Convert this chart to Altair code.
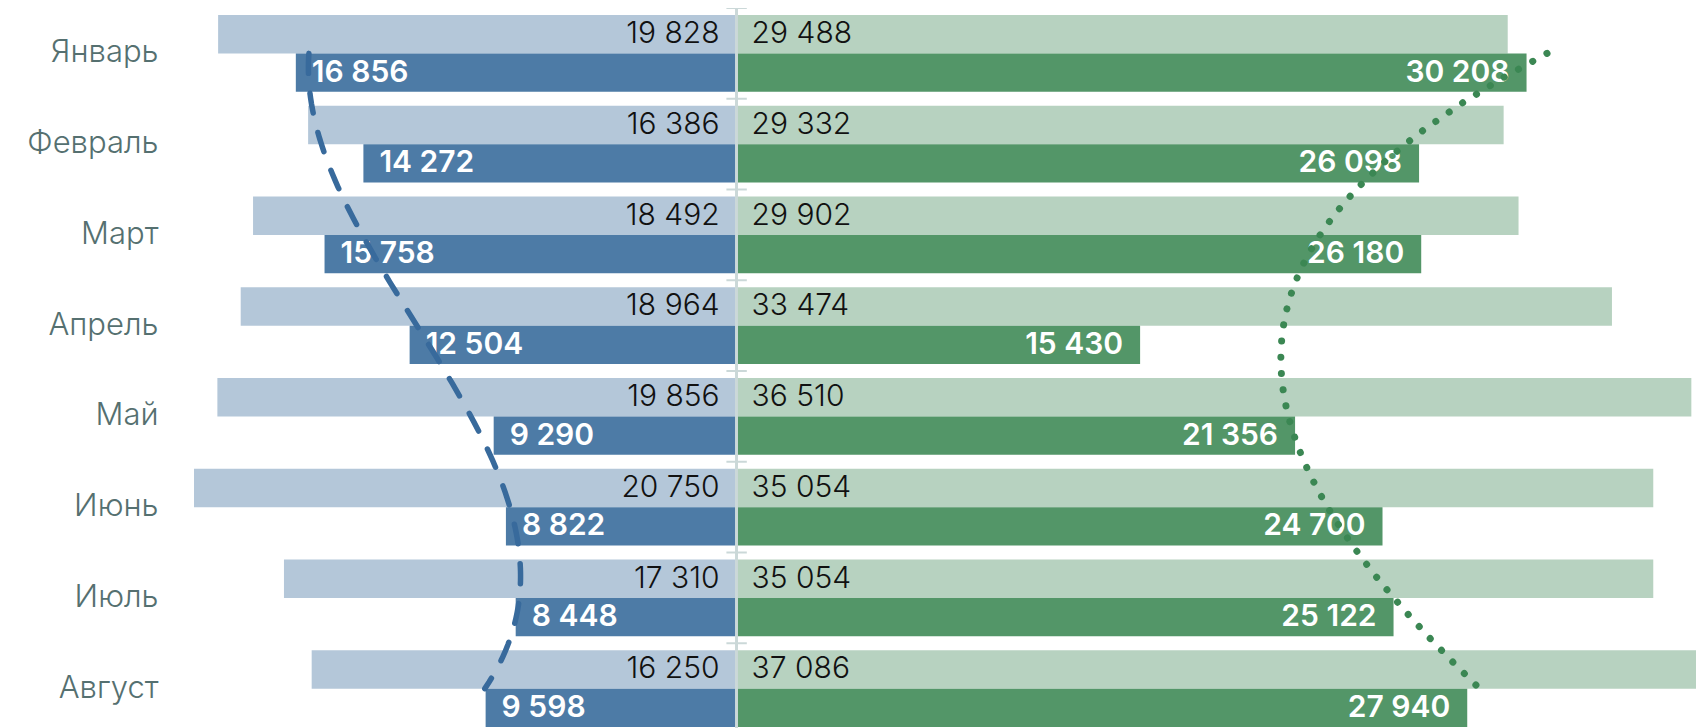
import altair as alt
import pandas as pd

months = ["Январь", "Февраль", "Март", "Апрель", "Май", "Июнь", "Июль", "Август"]
prev_left = [19828, 16386, 18492, 18964, 19856, 20750, 17310, 16250]
cur_left = [16856, 14272, 15758, 12504, 9290, 8822, 8448, 9598]
prev_right = [29488, 29332, 29902, 33474, 36510, 35054, 35054, 37086]
cur_right = [30208, 26098, 26180, 15430, 21356, 24700, 25122, 27940]


def fmt(v):
    return f"{v:,}".replace(",", "\u00a0")


rows = []
for i, m in enumerate(months):
    for side, series, vals in [("L", "prev", prev_left), ("L", "cur", cur_left),
                               ("R", "prev", prev_right), ("R", "cur", cur_right)]:
        v = vals[i]
        rows.append({
            "month": m, "idx": i, "series": series, "side": side,
            "key": f"{side}_{series}", "value": v,
            "x": -v if side == "L" else v, "label": fmt(v),
        })
df = pd.DataFrame(rows)
df_dark = pd.DataFrame({"idx": list(range(len(months))), "cur_left": cur_left, "cur_right": cur_right})
df_months = pd.DataFrame({"month": months})

FONT = "Inter"
BAND_RANGE = [0, 726]
xscale = alt.Scale(domain=[-20750, 36688], nice=False, zero=False)
yscale = alt.Scale(domain=months, paddingInner=0, paddingOuter=0, range=BAND_RANGE)
yoff = alt.YOffset("series:N", sort=["prev", "cur"],
                   scale=alt.Scale(paddingInner=0, paddingOuter=0.18))

base = alt.Chart(df)

bars = base.mark_bar(clip=True).encode(
    x=alt.X("x:Q", scale=xscale, axis=None),
    y=alt.Y("month:N", sort=months, scale=yscale, title=None,
            axis=alt.Axis(ticks=False, domain=False, labelFontSize=31, labelFont=FONT,
                          labelColor="#557070", labelPadding=36, labelFontWeight=300,
                          labelLimit=400)),
    yOffset=yoff,
    color=alt.Color("key:N", legend=None,
                    scale=alt.Scale(domain=["L_prev", "L_cur", "R_prev", "R_cur"],
                                    range=["#b4c7d9", "#4d7ba6", "#b7d2c0", "#539668"])),
)

ynoaxis = alt.Y("month:N", sort=months, scale=yscale, axis=None)

txt_lp = base.transform_filter("datum.key == 'L_prev'").mark_text(
    align="right", baseline="middle", dx=-17, fontSize=30, font=FONT, fontWeight=300,
    color="#111111", clip=True
).encode(x=alt.datum(0, scale=xscale), y=ynoaxis, yOffset=yoff, text="label:N")

txt_rp = base.transform_filter("datum.key == 'R_prev'").mark_text(
    align="left", baseline="middle", dx=15, fontSize=30, font=FONT, fontWeight=300,
    color="#111111", clip=True
).encode(x=alt.datum(0, scale=xscale), y=ynoaxis, yOffset=yoff, text="label:N")

txt_lc = base.transform_filter("datum.key == 'L_cur'").mark_text(
    align="left", baseline="middle", dx=16, fontSize=30, font=FONT, fontWeight=600,
    color="white", clip=True
).encode(x=alt.X("x:Q", scale=xscale), y=ynoaxis, yOffset=yoff, text="label:N")

txt_rc = base.transform_filter("datum.key == 'R_cur'").mark_text(
    align="right", baseline="middle", dx=-17, fontSize=30, font=FONT, fontWeight=600,
    color="white", clip=True
).encode(x=alt.X("x:Q", scale=xscale), y=ynoaxis, yOffset=yoff, text="label:N")

center = alt.Chart(df_months).mark_rule(color="#cbd8d8", strokeWidth=2).encode(
    x=alt.datum(0, scale=xscale)
)

ticks = alt.Chart(df_months).mark_rule(color="#cbd8d8", strokeWidth=2).encode(
    y=alt.Y("month:N", sort=months, scale=yscale, axis=None, bandPosition=0),
    x=alt.datum(-390, scale=xscale),
    x2=alt.datum(390),
)

tscale = alt.Scale(domain=[0, 8], range=BAND_RANGE, nice=False, zero=False)

trend_blue = alt.Chart(df_dark).transform_regression(
    "idx", "cur_left", method="poly", order=3
).transform_calculate(
    yy="datum.idx + 0.5", xx="-datum.cur_left"
).mark_line(color="#386a9c", strokeWidth=5.5, strokeDash=[20, 20], strokeCap="round").encode(
    x=alt.X("xx:Q", scale=xscale),
    y=alt.Y("yy:Q", scale=tscale, axis=None),
    order="idx:Q",
)

trend_green = alt.Chart(df_dark).transform_regression(
    "idx", "cur_right", method="poly", order=3
).transform_calculate(
    yy="datum.idx + 0.5", xx="datum.cur_right"
).mark_line(color="#3b8753", strokeWidth=7, strokeDash=[0.1, 16.2], strokeCap="round").encode(
    x=alt.X("xx:Q", scale=xscale),
    y=alt.Y("yy:Q", scale=tscale, axis=None),
    order="idx:Q",
)

chart = alt.layer(
    bars, center, ticks, txt_lp, txt_rp, txt_lc, txt_rc, trend_blue, trend_green
).resolve_scale(y="independent").properties(
    width=1502, height=720,
    autosize=alt.AutoSizeParams(type="none"),
    padding={"left": 186, "top": 0, "right": 0, "bottom": 0},
).configure_view(stroke=None)

chart.save("out.html", embed_options={"renderer": "svg", "actions": False})
